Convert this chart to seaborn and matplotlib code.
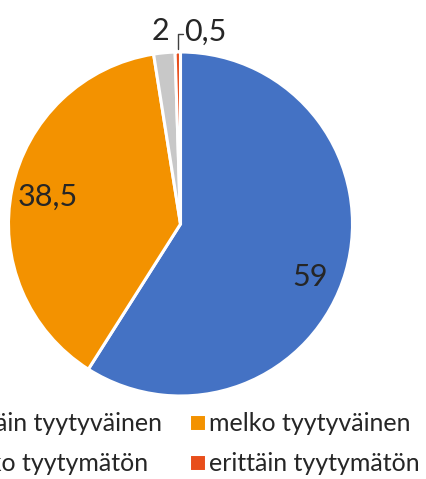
import matplotlib
matplotlib.use("Agg")
import matplotlib.pyplot as plt
import seaborn as sns
import numpy as np

sns.set_style("white")
plt.rcParams['font.family'] = ['Lato', 'DejaVu Sans']

labels = ["erittäin tyytyväinen", "melko tyytyväinen", "melko tyytymätön", "erittäin tyytymätön"]
values = [59, 38.5, 2, 0.5]
value_text = ["59", "38,5", "2", "0,5"]
colors = ["#4472C4", "#F39200", "#C8C8C8", "#E84E1B"]

W, H = 427, 479
fig = plt.figure(figsize=(W / 100, H / 100), dpi=100)
cx, cy, r = 180.5, 224, 172
ax = fig.add_axes([(cx - r) / W, (H - cy - r) / H, 2 * r / W, 2 * r / H])

wedges, _ = ax.pie(values, colors=colors, startangle=90, counterclock=False,
                   radius=1, wedgeprops=dict(edgecolor="white", linewidth=2.2))
ax.set_xlim(-1, 1)
ax.set_ylim(-1, 1)
ax.set_aspect("equal")
ax.axis("off")

# data labels (positions in pie radius units)
label_pos = [(0.756, -0.31), (-0.77, 0.16), (-0.119, 1.12), (0.142, 1.12)]
for txt, (x, y) in zip(value_text, label_pos):
    ax.text(x, y, txt, fontsize=22, ha="center", va="center", clip_on=False)

# leader line for the smallest slice
w = wedges[3]
mid = np.deg2rad((w.theta1 + w.theta2) / 2)
x0, y0 = np.cos(mid), np.sin(mid)
ax.plot([x0, x0, x0 + 0.03], [y0 + 0.02, 1.105, 1.105], color="#404040", lw=1, clip_on=False)

# legend filled row by row like the original
order = [0, 2, 1, 3]
fig.legend([wedges[i] for i in order], [labels[i] for i in order], ncol=2,
           loc="upper right", bbox_to_anchor=(420 / W, 1 - 412 / H), frameon=False,
           fontsize=18, handlelength=0.68, handleheight=0.68, handletextpad=0.15,
           columnspacing=1.05, labelspacing=0.68, borderpad=0, borderaxespad=0)

fig.savefig("out.png", dpi=100)
